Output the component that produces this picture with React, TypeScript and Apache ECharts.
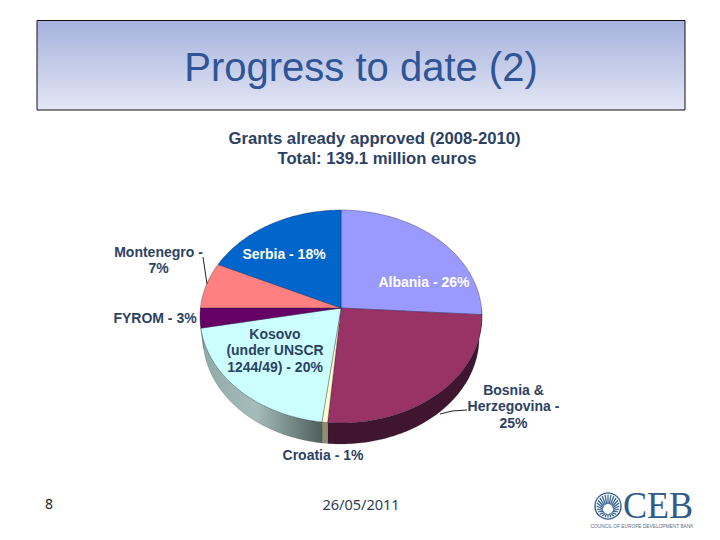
import React, { useEffect, useRef } from "react";
import * as echarts from "echarts";

const categories = ["Albania", "Bosnia & Herzegovina", "Croatia", "Kosovo", "FYROM", "Montenegro", "Serbia"];
const shares = [26, 25.4, 0.6, 20, 3, 7, 18];
const topColors = ["#9999ff", "#993366", "#ffffcc", "#ccffff", "#660066", "#ff8080", "#0066cc"];
const sideColors: any[] = [
  "#55558f",
  "#3f1530",
  "#8f8f70",
  {
    type: "linear", x: 0, y: 0, x2: 1, y2: 0,
    colorStops: [
      { offset: 0, color: "#8fa9a6" },
      { offset: 0.45, color: "#a5bdba" },
      { offset: 1, color: "#4d5f5d" },
    ],
  },
  "#8fa9a6",
  "#8f4848",
  "#003a75",
];
const titleText = "Progress to date (2)";
const subtitleLines = ["Grants already approved (2008-2010)", "Total: 139.1 million euros"];
const sliceLabels = [
  "Albania - 26%",
  "Bosnia &\nHerzegovina -\n25%",
  "Croatia - 1%",
  "Kosovo\n(under UNSCR\n1244/49) - 20%",
  "FYROM - 3%",
  "Montenegro -\n7%",
  "Serbia - 18%",
];
const pageNumber = "8";
const dateText = "26/05/2011";
const logoText = "CEB";
const logoCaption = "COUNCIL OF EUROPE DEVELOPMENT BANK";

const total = shares.reduce((a, b) => a + b, 0);
const cumulative = shares.map((_, i) => shares.slice(0, i).reduce((a, b) => a + b, 0));

const NAVY = "#2c4263";
// Tilted disc: a circle seen in perspective, so its centre sits above the middle of the ellipse.
const APEX_X = 341, APEX_Y = 308;
const PERSP = -0.0798, SCALE_Y = 105.8, SCALE_X = 140.5;
const DEPTH = 21, BOTTOM_SHRINK = 0.98;

const deg = (share: number) => (share / total) * 360;
const rim = (a: number, dy = 0, shrink = 1) => {
  const t = (a * Math.PI) / 180;
  const u = Math.sin(t);
  const v = -Math.cos(t);
  const d = 1 + PERSP * v;
  return [APEX_X + (shrink * SCALE_X * u) / d, APEX_Y + dy + (SCALE_Y * v) / d];
};
const arc = (from: number, to: number, dy = 0, shrink = 1) => {
  const pts: number[][] = [];
  const n = Math.max(2, Math.ceil(Math.abs(to - from)));
  for (let i = 0; i <= n; i++) pts.push(rim(from + ((to - from) * i) / n, dy, shrink));
  return pts;
};

const renderSide = (_: any, api: any) => {
  const start = deg(api.value(0));
  const end = start + deg(api.value(1));
  const a = Math.max(start, 90);
  const b = Math.min(end, 270);
  if (b <= a) return { type: "group", children: [] };
  const idx = api.value(2);
  const points = [...arc(a, b), ...arc(b, a, DEPTH, BOTTOM_SHRINK)];
  return {
    type: "polygon",
    shape: { points },
    style: { fill: sideColors[idx], stroke: "rgba(30,30,30,0.3)", lineWidth: 0.5 },
  };
};

const renderTop = (_: any, api: any) => {
  const start = deg(api.value(0));
  const end = start + deg(api.value(1));
  const idx = api.value(2);
  const points = [[APEX_X, APEX_Y], ...arc(start, end)];
  return {
    type: "polygon",
    shape: { points },
    style: { fill: topColors[idx], stroke: "rgba(20,20,50,0.55)", lineWidth: 0.6 },
  };
};

const label = (text: string, x: number, y: number, fill = NAVY, size = 14, lh = 16.5) => ({
  type: "text",
  x,
  y,
  z: 5,
  silent: true,
  style: {
    text,
    fill,
    font: `bold ${size}px "Liberation Sans", Arial, sans-serif`,
    textAlign: "center",
    textVerticalAlign: "middle",
    lineHeight: lh,
  },
});

const emblem = () => {
  const ex = 608, ey = 506;
  const children: any[] = [
    { type: "circle", z: 5, shape: { cx: ex, cy: ey, r: 13 }, style: { fill: "#fff", stroke: "#2f5c8a", lineWidth: 1.4 } },
  ];
  for (let i = 0; i < 24; i++) {
    const t = (i / 24) * Math.PI * 2;
    children.push({
      type: "line",
      z: 5,
      shape: {
        x1: ex + 5 * Math.sin(t),
        y1: ey + 3 + 5 * Math.cos(t),
        x2: ex + 11.5 * Math.sin(t),
        y2: ey + 11.5 * Math.cos(t),
      },
      style: { stroke: "#2f5c8a", lineWidth: 1.2 },
    });
  }
  return { type: "group", children };
};

export default function App() {
  const ref = useRef<HTMLDivElement>(null);
  useEffect(() => {
    document.body.style.margin = "0";
    const chart = echarts.init(ref.current!, undefined, { renderer: "svg", width: 720, height: 540 });
    const rows = shares.map((s, i) => [cumulative[i], s, i, categories[i]]);
    chart.setOption({
      animation: false,
      backgroundColor: "#ffffff",
      series: [
        { type: "custom", coordinateSystem: "none", renderItem: renderSide, data: rows, z: 2, silent: true },
        { type: "custom", coordinateSystem: "none", renderItem: renderTop, data: rows, z: 3, silent: true },
      ],
      graphic: {
        elements: [
          {
            type: "rect",
            z: 1,
            shape: { x: 37, y: 20.5, width: 648, height: 89.5 },
            style: {
              stroke: "#111",
              lineWidth: 1,
              fill: {
                type: "linear", x: 0, y: 0, x2: 0, y2: 1,
                colorStops: [
                  { offset: 0, color: "#a6b2de" },
                  { offset: 1, color: "#e3e6f4" },
                ],
              },
            },
          },
          {
            type: "text", x: 361, y: 67, z: 5,
            style: {
              text: titleText, fill: "#2f5597",
              font: '40px "Liberation Sans", Arial, sans-serif',
              textAlign: "center", textVerticalAlign: "middle",
            },
          },
          label(subtitleLines[0], 374.5, 138, NAVY, 16.7),
          label(subtitleLines[1], 377, 158, NAVY, 16.7),
          label(sliceLabels[6], 284, 254, "#ffffff"),
          label(sliceLabels[0], 424, 282, "#ffffff"),
          label(sliceLabels[3], 275, 350),
          label(sliceLabels[5], 158.5, 260),
          label(sliceLabels[4], 155, 318),
          label(sliceLabels[1], 513.5, 406),
          label(sliceLabels[2], 323, 455),
          { type: "line", z: 6, shape: { x1: 203, y1: 257, x2: 207, y2: 284 }, style: { stroke: "#222", lineWidth: 1 } },
          { type: "polyline", z: 6, shape: { points: [[467, 410], [452, 411], [440, 414]] }, style: { stroke: "#222", lineWidth: 1, fill: "none" } },
          {
            type: "text", x: 49, y: 503, z: 5,
            style: { text: pageNumber, fill: "#222", font: '14px "Noto Sans", sans-serif', textAlign: "center", textVerticalAlign: "middle" },
          },
          {
            type: "text", x: 361, y: 504, z: 5,
            style: { text: dateText, fill: "#2c3b52", font: '14.5px "Noto Sans", sans-serif', textAlign: "center", textVerticalAlign: "middle" },
          },
          emblem(),
          {
            type: "text", x: 623, y: 505, z: 5, scaleX: 0.95,
            style: { text: logoText, fill: "#2f5c8a", font: '38px "Liberation Serif", serif', textAlign: "left", textVerticalAlign: "middle" },
          },
          {
            type: "text", x: 642, y: 526.5, z: 5,
            style: { text: logoCaption, fill: "#5a6f88", font: '4.8px "Liberation Sans", sans-serif', textAlign: "center", textVerticalAlign: "middle" },
          },
        ],
      },
    });
    return () => chart.dispose();
  }, []);
  return <div ref={ref} style={{ position: "absolute", left: 0, top: 0, width: 720, height: 540 }} />;
}
